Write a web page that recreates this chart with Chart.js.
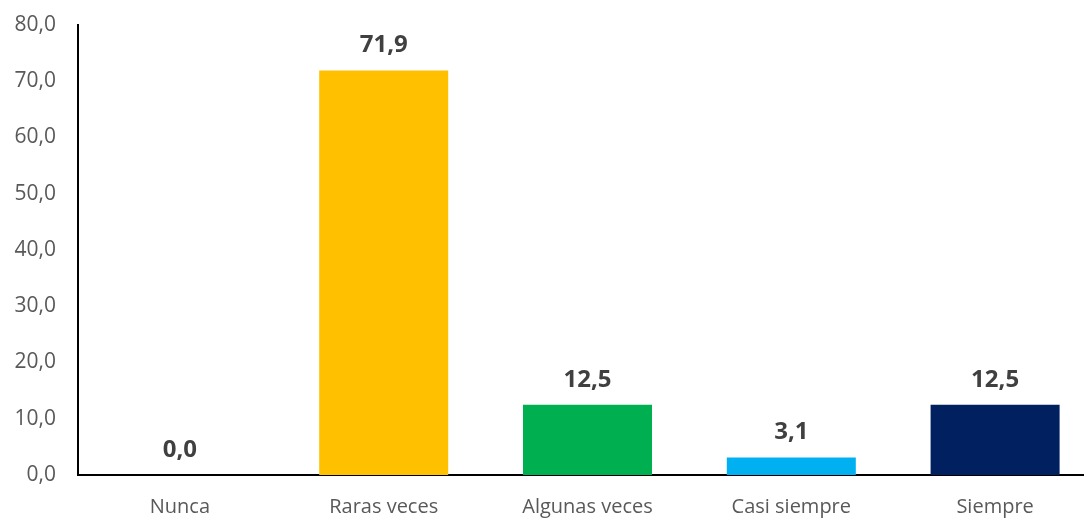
<!DOCTYPE html>
<html>
<head>
<meta charset="utf-8">
<script src="https://cdn.jsdelivr.net/npm/chart.js@4"></script>
<style>
  html, body { margin: 0; padding: 0; background: #fff; overflow: hidden; }
  #wrap { position: relative; width: 1097px; height: 519px; }
</style>
</head>
<body>
<div id="wrap"><canvas id="chart"></canvas></div>
<script>
// chart data
var categories = ['Nunca', 'Raras veces', 'Algunas veces', 'Casi siempre', 'Siempre'];
var values = [0.0, 71.9, 12.5, 3.1, 12.5];
var barColors = ['#7F7F7F', '#FFC000', '#00B050', '#00B0F0', '#002060'];
var yTicks = [0, 10, 20, 30, 40, 50, 60, 70, 80];

function fmt(v) {
    return v.toFixed(1).replace('.', ',');
}

// draw value labels above each bar
var valueLabels = {
    id: 'valueLabels',
    afterDatasetsDraw: function(chart) {
        var ctx = chart.ctx;
        var meta = chart.getDatasetMeta(0);
        ctx.save();
        ctx.font = 'bold 24px "Open Sans"';
        ctx.fillStyle = '#404040';
        ctx.textAlign = 'center';
        ctx.textBaseline = 'middle';
        meta.data.forEach(function(bar, i) {
            ctx.fillText(fmt(values[i]), bar.x, bar.y - 25);
        });
        ctx.restore();
    }
};

new Chart(document.getElementById('chart'), {
    type: 'bar',
    data: {
        labels: categories,
        datasets: [{
            data: values,
            backgroundColor: barColors,
            borderWidth: 0,
            barPercentage: 0.633,
            categoryPercentage: 1
        }]
    },
    options: {
        responsive: true,
        maintainAspectRatio: false,
        animation: false,
        layout: { padding: { top: 25, left: 0, right: 0, bottom: 0 } },
        plugins: {
            legend: { display: false },
            tooltip: { enabled: false }
        },
        scales: {
            x: {
                grid: { display: false, drawTicks: false },
                border: { display: true, color: '#000', width: 2 },
                ticks: {
                    color: '#595959',
                    font: { family: 'Open Sans', size: 20 },
                    padding: 20,
                    maxRotation: 0
                },
                afterFit: function(scale) {
                    scale.height = 44;
                    scale.paddingLeft = 0;
                    scale.paddingRight = 0;
                }
            },
            y: {
                min: 0,
                max: 80,
                grid: { display: false, drawTicks: false },
                border: { display: true, color: '#000', width: 2 },
                afterBuildTicks: function(scale) {
                    scale.ticks = yTicks.map(function(v) { return { value: v }; });
                },
                ticks: {
                    color: '#595959',
                    font: { family: 'Open Sans', size: 21 },
                    padding: 22,
                    callback: function(v) { return fmt(v); }
                },
                afterFit: function(scale) {
                    scale.width = 78;
                    scale.paddingTop = 0;
                    scale.paddingBottom = 0;
                }
            }
        }
    },
    plugins: [valueLabels]
});
</script>
</body>
</html>
